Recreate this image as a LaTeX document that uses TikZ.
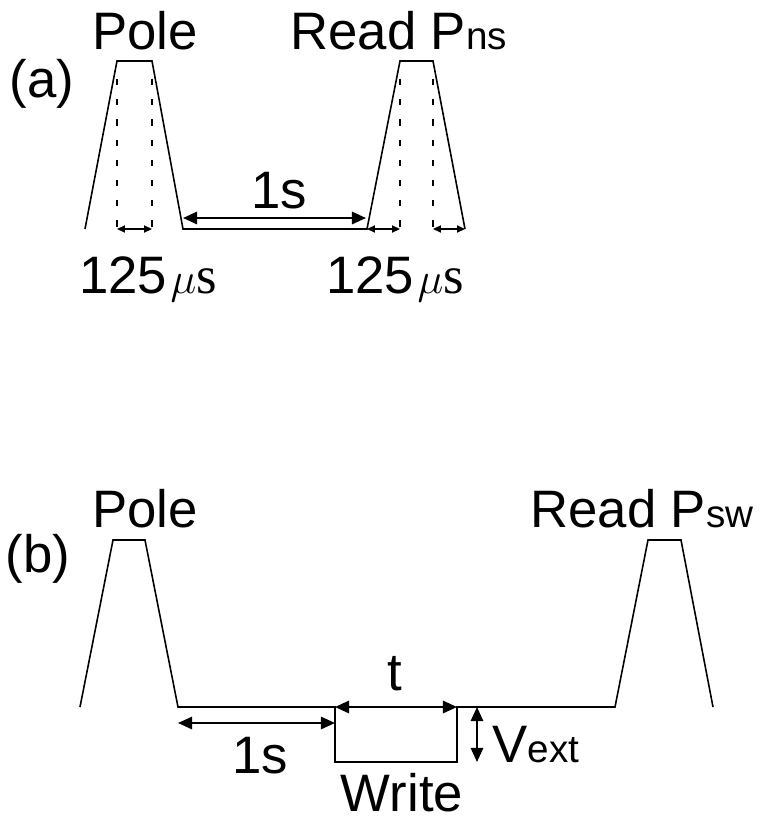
\documentclass[tikz,border=0pt]{standalone}
\usepackage{fontspec}
\setmainfont{Liberation Sans}
\newfontfamily\serifmu{Liberation Serif}
\usetikzlibrary{arrows.meta,calc}

\newcommand{\subtxt}[1]{{\fontsize{22}{24}\selectfont #1}}
\newcommand{\musec}{\kern2pt{\serifmu$\mu$s}}

\tikzset{
	wave/.style={line width=0.9pt, line join=miter},
	guide/.style={line width=1.4pt, dash pattern=on 3.5pt off 8pt},
	span/.style={line width=1.2pt, {Triangle[length=8pt,width=7pt]}-{Triangle[length=8pt,width=7pt]}},
	tick/.style={line width=0.9pt, {Triangle[length=4.5pt,width=4pt]}-{Triangle[length=4.5pt,width=4pt]}},
	lbl/.style={inner sep=0pt, anchor=base, font=\fontsize{30}{32}\selectfont},
}

\begin{document}
\begin{tikzpicture}[x=0.02cm, y=-0.02cm]
	\useasboundingbox (0,0) rectangle (761,821);
	
	% Panel (a)
	\begin{scope}
		% Pulses
		\coordinate (pa0) at (85,229);
		\coordinate (pa1) at (117,61);
		\coordinate (pa2) at (152,61);
		\coordinate (pa3) at (183,229);
		\coordinate (ra0) at (367,229);
		\coordinate (ra1) at (400,61);
		\coordinate (ra2) at (433,61);
		\coordinate (ra3) at (465,229);
		\draw[wave] (pa0) -- (pa1) -- (pa2) -- (pa3) -- (ra0) -- (ra1) -- (ra2) -- (ra3);
		
		% Dotted guides
		\draw[guide] ($(pa1)+(0,18)$) -- (pa1 |- pa0);
		\draw[guide] ($(pa2)+(0,18)$) -- (pa2 |- pa0);
		\draw[guide] ($(ra1)+(0,18)$) -- (ra1 |- ra0);
		\draw[guide] ($(ra2)+(0,18)$) -- (ra2 |- ra0);
		
		% Spans
		\coordinate (ga) at (183,218);
		\coordinate (gb) at (366,218);
		\draw[span] (ga) -- (gb);
		\draw[tick] (pa1 |- pa0) -- (pa2 |- pa0);
		\draw[tick] (ra0) -- (ra1 |- ra0);
		\draw[tick] (ra2 |- ra0) -- (ra3);
		
		% Labels
		\node[lbl] (tagA) at (42,97) {(a)};
		\node[lbl] (poleA) at (145,50) {Pole};
		\node[lbl, anchor=base west] (readA) at (290,50) {Read P\subtxt{ns}};
		\node[lbl] (gapA) at (279,208) {1s};
		\node[lbl] (riseA) at (148,293) {125\musec};
		\node[lbl] (riseB) at (395,293) {125\musec};
	\end{scope}
	
	% Panel (b)
	\begin{scope}
		% Pulses and write step
		\coordinate (pb0) at (80,707);
		\coordinate (pb1) at (113,540);
		\coordinate (pb2) at (145,540);
		\coordinate (pb3) at (178,707);
		\coordinate (wb0) at (335,707);
		\coordinate (wb1) at (335,762);
		\coordinate (wb2) at (457,762);
		\coordinate (wb3) at (457,707);
		\coordinate (rb0) at (615,707);
		\coordinate (rb1) at (648,540);
		\coordinate (rb2) at (681,540);
		\coordinate (rb3) at (713,707);
		\draw[wave] (pb0) -- (pb1) -- (pb2) -- (pb3) -- (wb0) -- (wb1) -- (wb2) -- (wb3) -- (rb0) -- (rb1) -- (rb2) -- (rb3);
		
		% Spans
		\draw[span] (wb0) -- (wb3);
		\coordinate (ha) at (178,723);
		\coordinate (hb) at (335,723);
		\draw[span] (ha) -- (hb);
		\coordinate (va) at (477,707);
		\coordinate (vb) at (477,762);
		\draw[span] (va) -- (vb);
		
		% Labels
		\node[lbl] (tagB) at (38,572) {(b)};
		\node[lbl] (poleB) at (145,527) {Pole};
		\node[lbl, anchor=base west] (readB) at (530,527) {Read P\subtxt{sw}};
		\node[lbl] (widthB) at (395,690) {t};
		\node[lbl] (gapB) at (260,773) {1s};
		\node[lbl, anchor=base west] (voltB) at (492,762) {V\subtxt{ext}};
		\node[lbl] (writeB) at (402,811) {Write};
	\end{scope}
	
\end{tikzpicture}
\end{document}
